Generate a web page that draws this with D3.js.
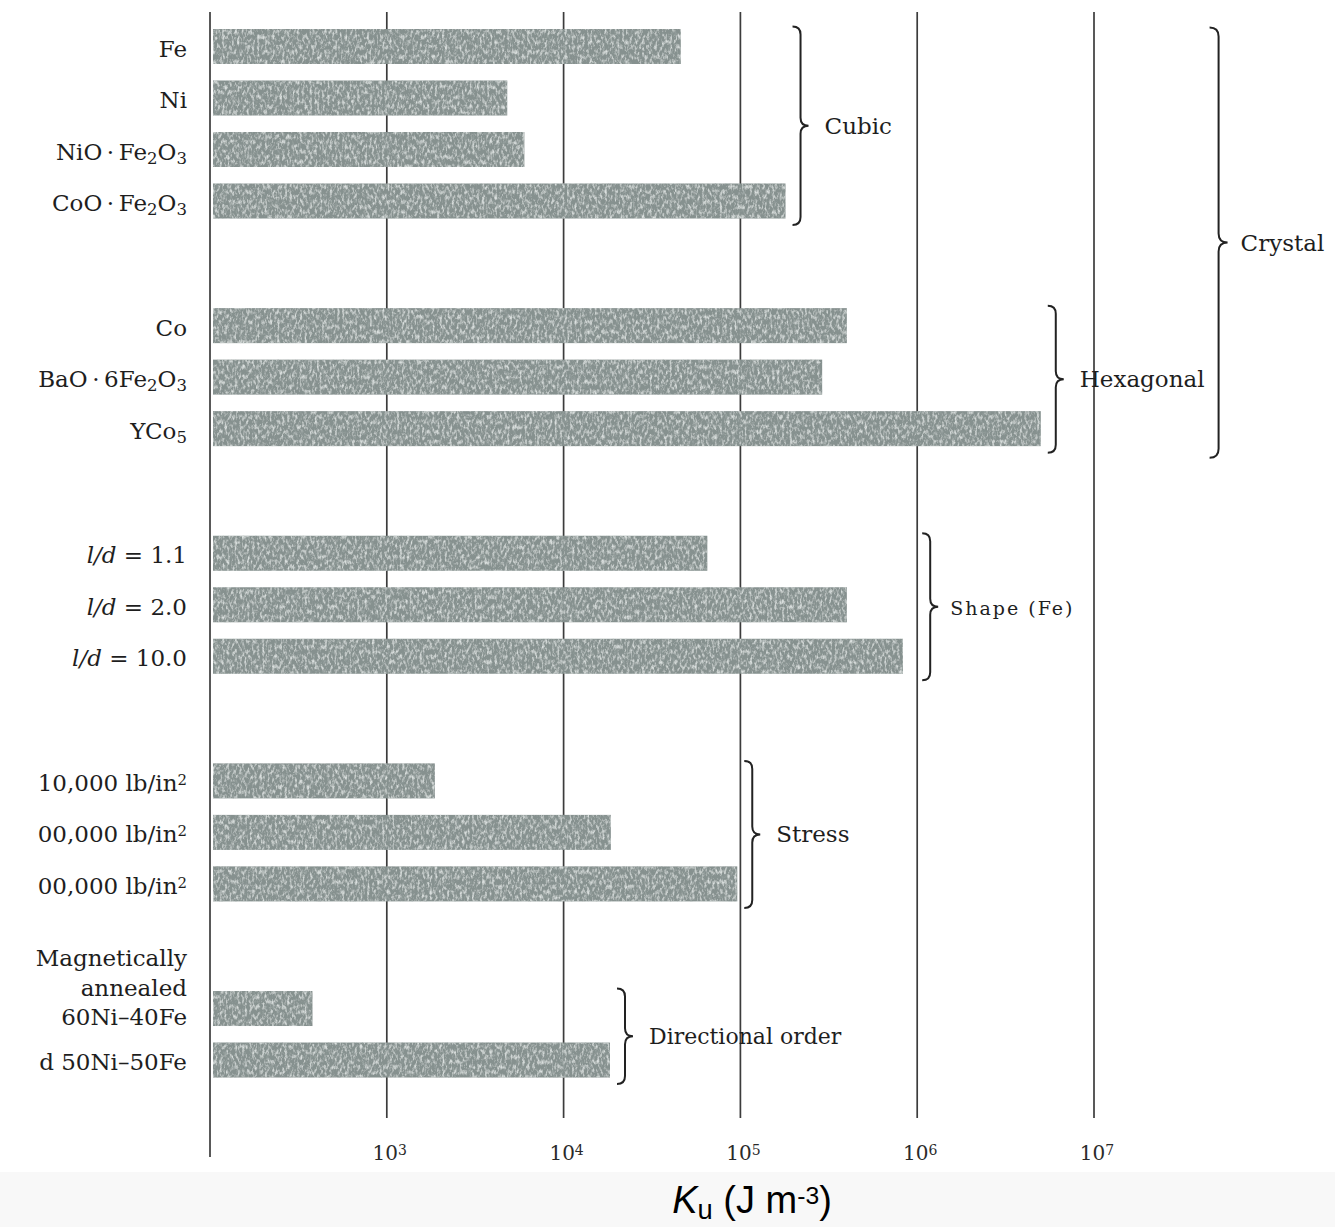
<!DOCTYPE html>
<html>
<head>
<meta charset="utf-8">
<script src="https://cdn.jsdelivr.net/npm/d3@7"></script>
<style>
  body { margin: 0; background: #ffffff; }
  svg { display: block; }
</style>
</head>
<body>
<svg id="chart" width="1335" height="1227"></svg>
<script>
// ---------------- DATA ----------------
// Row labels (markup: _x subscript, ^x superscript, *..* italic, \n new line)
const categories = [
  "Fe", "Ni", "NiO\u2009·\u2009Fe_2O_3", "CoO\u2009·\u2009Fe_2O_3",
  "Co", "BaO\u2009·\u20096Fe_2O_3", "YCo_5",
  "*l/d* = 1.1", "*l/d* = 2.0", "*l/d* = 10.0",
  "10,000 lb/in^2", "00,000 lb/in^2", "00,000 lb/in^2",
  "Magnetically\nannealed\n60Ni–40Fe", "d 50Ni–50Fe"
];
// Anisotropy constant Ku (J m^-3)
const values = [
  4.6e4, 4.8e3, 6.0e3, 1.8e5,
  4.0e5, 2.9e5, 5.0e6,
  6.5e4, 4.0e5, 8.3e5,
  1.87e3, 1.85e4, 9.6e4,
  3.8e2, 1.83e4
];
// group index of each row
const groupOf = [0,0,0,0, 1,1,1, 2,2,2, 3,3,3, 4,4];
const groupNames = ["Cubic", "Hexagonal", "Shape (Fe)", "Stress", "Directional order"];
// super-group spanning groups
const superGroups = [{ name: "Crystal", from: 0, to: 1 }];
// axis
const domainLog = [1e2, 1e7];
const gridValues = [1e2, 1e3, 1e4, 1e5, 1e6, 1e7];
const tickValues = [1e3, 1e4, 1e5, 1e6, 1e7];
const tickLabels = ["10^3", "10^4", "10^5", "10^6", "10^7"];
const axisTitle = "*K*_u (J m^-3)";

// ---------------- LAYOUT ----------------
const svg = d3.select("#chart");
const W = 1335, H = 1227;
const x = d3.scaleLog().domain(domainLog).range([210, 1094]);
const slotScale = d3.scaleLinear().domain([0, 1]).range([46.5, 98]);
const groupGap = 1.42;
const rowY = i => slotScale(i + groupOf[i] * groupGap);
const barH = 35;
const serif = "'DejaVu Serif', 'Liberation Serif', serif";

// background strip at bottom
svg.append("rect").attr("x", 0).attr("y", 0).attr("width", W).attr("height", H).attr("fill", "#ffffff");
svg.append("rect").attr("x", 0).attr("y", 1172).attr("width", W).attr("height", H - 1172).attr("fill", "#f8f8f8");

// grain filter for the printed bars
const defs = svg.append("defs");
const f = defs.append("filter").attr("id", "grain").attr("x", -0.01).attr("y", -0.05).attr("width", 1.02).attr("height", 1.1);
f.append("feTurbulence").attr("type", "fractalNoise").attr("baseFrequency", "0.4 0.2")
  .attr("numOctaves", 3).attr("seed", 11).attr("result", "n");
f.append("feColorMatrix").attr("in", "n").attr("type", "matrix")
  .attr("values", "0 0 0 0 0.70  0 0 0 0 0.74  0 0 0 0 0.73  2.6 0 0 0 -1.2").attr("result", "light");
f.append("feColorMatrix").attr("in", "n").attr("type", "matrix")
  .attr("values", "0 0 0 0 0.33  0 0 0 0 0.38  0 0 0 0 0.37  0 -3.0 0 0 1.35").attr("result", "dark");
f.append("feComposite").attr("in", "light").attr("in2", "SourceGraphic").attr("operator", "in").attr("result", "l2");
f.append("feComposite").attr("in", "dark").attr("in2", "SourceGraphic").attr("operator", "in").attr("result", "d2");
const m = f.append("feMerge").attr("result", "merged");
m.append("feMergeNode").attr("in", "SourceGraphic");
m.append("feMergeNode").attr("in", "d2");
m.append("feMergeNode").attr("in", "l2");
f.append("feGaussianBlur").attr("in", "merged").attr("stdDeviation", 0.7);

// rich text helper
function rich(sel, str, size, supScale) {
  const parts = [];
  let italic = false, i = 0;
  while (i < str.length) {
    const c = str[i];
    if (c === "*") { italic = !italic; i++; continue; }
    if (c === "_" || c === "^") {
      let j = i + 1, t = "";
      if (str[j] === "-") { t += "-"; j++; }
      t += str[j];
      parts.push({ t, mode: c === "_" ? "sub" : "sup", italic });
      i = j + 1; continue;
    }
    parts.push({ t: c, mode: "n", italic });
    i++;
  }
  const merged = [];
  parts.forEach(p => {
    const last = merged[merged.length - 1];
    if (last && last.mode === p.mode && last.italic === p.italic) last.t += p.t;
    else merged.push({ ...p });
  });
  merged.forEach(p => {
    const ts = sel.append("tspan").text(p.t);
    if (p.italic) ts.attr("font-style", "italic");
    if (p.mode === "sub") ts.attr("font-size", size * 0.72).attr("baseline-shift", "-22%");
    if (p.mode === "sup") ts.attr("font-size", size * (supScale || 0.65)).attr("baseline-shift", "38%");
  });
}

// grid lines
svg.append("g").selectAll("line").data(gridValues).join("line")
  .attr("x1", d => x(d)).attr("x2", d => x(d))
  .attr("y1", 12)
  .attr("y2", d => d === domainLog[0] ? 1157 : 1118)
  .attr("stroke", "#3c3c3c").attr("stroke-width", 1.7);

// bars
const x0 = x(domainLog[0]) + 3;
svg.append("g").selectAll("rect").data(values).join("rect")
  .attr("x", x0)
  .attr("y", (d, i) => rowY(i) - barH / 2)
  .attr("width", d => x(d) - x0)
  .attr("height", barH)
  .attr("fill", "#86918f")
  .attr("filter", "url(#grain)");

// row labels
const labG = svg.append("g").attr("font-family", serif).attr("font-size", 23).attr("fill", "#1e1e1e")
  .attr("text-anchor", "end");
categories.forEach((c, i) => {
  const lines = c.split("\n");
  const base = rowY(i) + (lines.length > 1 ? 16.5 : 10);
  lines.forEach((ln, k) => {
    const t = labG.append("text").attr("x", 187).attr("y", base - (lines.length - 1 - k) * 29.5);
    rich(t, ln, 23);
  });
});

// curly brace
function brace(xs, y0, y1, w) {
  const ym = (y0 + y1) / 2;
  return `M${xs - w},${y0} Q${xs},${y0} ${xs},${y0 + w} L${xs},${ym - w} Q${xs},${ym} ${xs + w},${ym} ` +
         `Q${xs},${ym} ${xs},${ym + w} L${xs},${y1 - w} Q${xs},${y1} ${xs - w},${y1}`;
}
const braceG = svg.append("g");
const groupInfo = groupNames.map((name, g) => {
  const idx = d3.range(values.length).filter(i => groupOf[i] === g);
  const maxEnd = d3.max(idx, i => x(values[i]));
  let xs = maxEnd + 15;
  gridValues.forEach(v => { if (Math.abs(x(v) - xs) < 10) xs = x(v) + 13; });
  const y0 = rowY(idx[0]) - 20, y1 = rowY(idx[idx.length - 1]) + 24;
  return { name, xs, y0, y1 };
});
groupInfo.forEach(gi => {
  braceG.append("path").attr("d", brace(gi.xs, gi.y0, gi.y1, 8))
    .attr("fill", "none").attr("stroke", "#222").attr("stroke-width", 2);
  const isShape = gi.name.startsWith("Shape");
  const t = braceG.append("text").attr("x", gi.xs + 8 + (isShape ? 12 : 16)).attr("y", (gi.y0 + gi.y1) / 2 + 8)
    .attr("font-family", serif)
    .attr("font-size", isShape ? 19 : (gi.name.length > 10 ? 22 : 23))
    .attr("letter-spacing", isShape ? 2 : 0)
    .attr("fill", "#1e1e1e")
    .text(gi.name);
  gi.textEnd = gi.xs + 8 + (isShape ? 12 : 16) + t.node().getComputedTextLength();
});
superGroups.forEach(sg => {
  const a = groupInfo[sg.from], b = groupInfo[sg.to];
  const xs = d3.max([a, b], d => d.textEnd) + 14;
  const y0 = a.y0 + 1, y1 = b.y1 + 5;
  braceG.append("path").attr("d", brace(xs, y0, y1, 9))
    .attr("fill", "none").attr("stroke", "#222").attr("stroke-width", 2);
  braceG.append("text").attr("x", xs + 9 + 13).attr("y", (y0 + y1) / 2 + 8)
    .attr("font-family", serif).attr("font-size", 23).attr("fill", "#1e1e1e").text(sg.name);
});

// tick labels
const tickG = svg.append("g").attr("font-family", serif).attr("font-size", 20).attr("fill", "#2a2a2a")
  .attr("text-anchor", "middle");
tickValues.forEach((v, i) => {
  const t = tickG.append("text").attr("x", x(v) + 3).attr("y", 1160);
  rich(t, tickLabels[i], 20, 0.7);
});

// axis title
const tt = svg.append("text").attr("x", 752).attr("y", 1213).attr("text-anchor", "middle")
  .attr("font-family", "'Liberation Sans', Arial, sans-serif").attr("font-size", 38).attr("fill", "#000");
rich(tt, axisTitle, 38);
</script>
</body>
</html>
